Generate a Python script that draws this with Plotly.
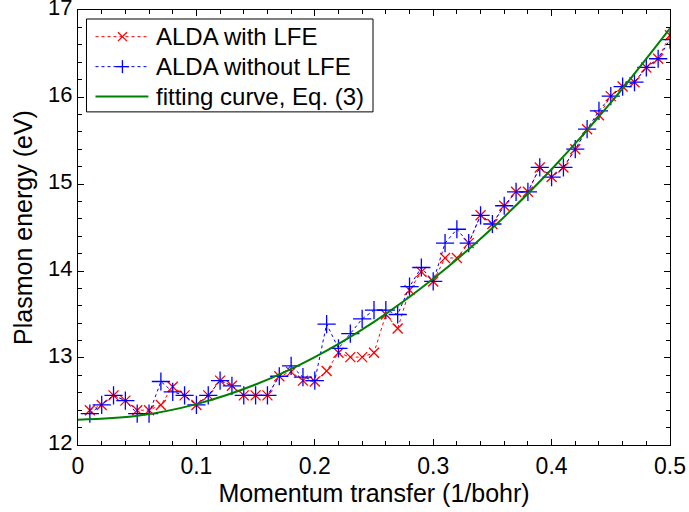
import plotly.graph_objects as go

q = [round(0.01 * i, 2) for i in range(1, 51)]

alda_lfe = [12.40, 12.46, 12.57, 12.51, 12.40, 12.40, 12.46, 12.67, 12.57, 12.46,
            12.57, 12.74, 12.68, 12.57, 12.57, 12.57, 12.79, 12.84, 12.74, 12.73,
            12.85, 13.06, 13.01, 13.01, 13.06, 13.50, 13.34, 13.78, 13.99, 13.88,
            14.15, 14.15, 14.32, 14.64, 14.54, 14.75, 14.91, 14.91, 15.19, 15.08,
            15.19, 15.40, 15.63, 15.79, 16.01, 16.12, 16.17, 16.34, 16.44, 16.71]

alda_nolfe = [12.36, 12.46, 12.57, 12.51, 12.36, 12.36, 12.73, 12.61, 12.57, 12.46,
              12.57, 12.74, 12.68, 12.57, 12.57, 12.57, 12.79, 12.91, 12.78, 12.74,
              13.39, 13.11, 13.28, 13.45, 13.55, 13.55, 13.50, 13.82, 14.04, 13.88,
              14.32, 14.48, 14.32, 14.64, 14.54, 14.75, 14.91, 14.91, 15.19, 15.08,
              15.19, 15.40, 15.63, 15.84, 16.01, 16.12, 16.17, 16.34, 16.44, 16.66]

fit_q = [0.0, 0.05, 0.10, 0.15, 0.20, 0.25, 0.30, 0.35, 0.40, 0.45, 0.50]
fit_e = [12.29, 12.335, 12.47, 12.695, 13.01, 13.415, 13.91, 14.495, 15.17, 15.935, 16.79]

x_ticks = [0, 0.1, 0.2, 0.3, 0.4, 0.5]
x_ticklabels = ["0", "0.1", "0.2", "0.3", "0.4", "0.5"]
y_ticks = [12, 13, 14, 15, 16, 17]
y_ticklabels = ["12", "13", "14", "15", "16", "17"]

series_names = ["ALDA with LFE", "ALDA without LFE", "fitting curve, Eq. (3)"]
RED, BLUE, GREEN = "#FF0000", "#0000FF", "#008000"

FONT = "Liberation Sans, Arial, Helvetica, sans-serif"

W, H = 689, 512
ML, MR, MT, MB = 77.5, 18.5, 10, 66.5
PW, PH = W - ML - MR, H - MT - MB


def px(X):
    return (X - ML) / PW


def py(Y):
    return (H - MB - Y) / PH


fig = go.Figure()
fig.add_trace(go.Scatter(
    x=q, y=alda_lfe, mode="lines+markers", name=series_names[0],
    line=dict(color=RED, width=1, dash="dot"),
    marker=dict(symbol="x-thin", size=10, color=RED, line=dict(color=RED, width=1.3)),
))
fig.add_trace(go.Scatter(
    x=q, y=alda_nolfe, mode="lines+markers", name=series_names[1],
    line=dict(color=BLUE, width=1, dash="dot"),
    marker=dict(symbol="cross-thin", size=13, color=BLUE, line=dict(color=BLUE, width=1.3)),
))
fig.add_trace(go.Scatter(
    x=fit_q, y=fit_e, mode="lines", name=series_names[2],
    line=dict(color=GREEN, width=2, shape="spline"),
))

axis_common = dict(
    showgrid=False, zeroline=False, showline=True, linecolor="black", linewidth=1,
    mirror="ticks", ticks="inside", ticklen=6, tickcolor="black", tickwidth=1,
    automargin=False, ticklabeloverflow="allow",
)

fig.update_xaxes(
    range=[-0.00001, 0.50001], tickvals=x_ticks, ticktext=x_ticklabels,
    tickfont=dict(family=FONT, size=23, color="black"),
    title=dict(text="Momentum transfer (1/bohr)", font=dict(family=FONT, size=25, color="black"), standoff=0),
    minor=dict(ticks="inside", dtick=0.02, ticklen=4, tickcolor="black", tickwidth=1),
    **axis_common,
)
fig.update_yaxes(
    range=[11.9999, 17.0001], tickvals=y_ticks, ticktext=y_ticklabels,
    tickfont=dict(family=FONT, size=22, color="black"),
    title=dict(text="Plasmon energy (eV)", font=dict(family=FONT, size=25, color="black"), standoff=8),
    minor=dict(ticks="inside", dtick=0.2, ticklen=4, tickcolor="black", tickwidth=1),
    ticklabelshift=-3,
    **axis_common,
)

# ---- hand-built legend box (MATLAB style) ----
box = dict(x0=86, x1=373, y0=19, y1=112)
rows_y = [36.7, 66.7, 96.7]
line_x0, line_x1, mark_x, text_x = 95, 148, 122, 154

shapes = [dict(type="rect", xref="paper", yref="paper", layer="above",
               x0=px(box["x0"]), x1=px(box["x1"]), y0=py(box["y1"]), y1=py(box["y0"]),
               fillcolor="white", line=dict(color="black", width=1))]
styles = [(RED, "dot", 1), (BLUE, "dot", 1), (GREEN, "solid", 2)]
for (col, dash, lw), ry in zip(styles, rows_y):
    shapes.append(dict(type="line", xref="paper", yref="paper", layer="above",
                       x0=px(line_x0), x1=px(line_x1), y0=py(ry), y1=py(ry),
                       line=dict(color=col, width=lw, dash=dash)))
# x marker sample
d = 4.5
shapes.append(dict(type="line", xref="paper", yref="paper", layer="above",
                   x0=px(mark_x - d), x1=px(mark_x + d), y0=py(rows_y[0] - d), y1=py(rows_y[0] + d),
                   line=dict(color=RED, width=1.3)))
shapes.append(dict(type="line", xref="paper", yref="paper", layer="above",
                   x0=px(mark_x - d), x1=px(mark_x + d), y0=py(rows_y[0] + d), y1=py(rows_y[0] - d),
                   line=dict(color=RED, width=1.3)))
# + marker sample
p = 6.5
shapes.append(dict(type="line", xref="paper", yref="paper", layer="above",
                   x0=px(mark_x - p), x1=px(mark_x + p), y0=py(rows_y[1]), y1=py(rows_y[1]),
                   line=dict(color=BLUE, width=1.3)))
shapes.append(dict(type="line", xref="paper", yref="paper", layer="above",
                   x0=px(mark_x), x1=px(mark_x), y0=py(rows_y[1] - p), y1=py(rows_y[1] + p),
                   line=dict(color=BLUE, width=1.3)))

annotations = [dict(text=name, xref="paper", yref="paper", x=px(text_x), y=py(ry),
                    xanchor="left", yanchor="middle", showarrow=False,
                    font=dict(family=FONT, size=24, color="black"))
               for name, ry in zip(series_names, rows_y)]

fig.update_layout(
    width=W, height=H,
    margin=dict(l=ML, r=MR, t=MT, b=MB),
    paper_bgcolor="white", plot_bgcolor="white",
    font=dict(family=FONT, size=23, color="black"),
    showlegend=False,
    shapes=shapes,
    annotations=annotations,
)

fig.write_html("out.html", config={"displayModeBar": False},
               post_script="document.body.style.margin='0';")
